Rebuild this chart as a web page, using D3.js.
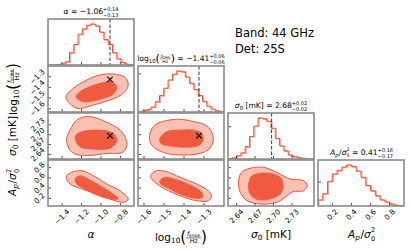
<!DOCTYPE html>
<html><head><meta charset="utf-8">
<script src="https://cdn.jsdelivr.net/npm/d3@7"></script>
<style>
body{margin:0;background:#fff;}
svg{display:block;font-family:"DejaVu Sans",sans-serif;}
text{white-space:pre;}
</style></head><body>
<svg id="c" width="411" height="251"></svg>
<script>
// ================= DATA =================
const alphaRange = [-1.545, -0.66];
const logfkRange = [-1.63, -1.20];
const sigmaRange = [2.626, 2.766];
const apRange    = [0.05, 0.95];

const alphaTicks = [-1.4, -1.2, -1.0, -0.8];
const logfkTicks = [-1.6, -1.5, -1.4, -1.3];
const sigmaTicks = [2.64, 2.67, 2.70, 2.73];
const apTicks    = [0.2, 0.4, 0.6, 0.8];

// marginal histograms (relative counts, peak = 1)
const alphaHist = [0, 0, 0.01, 0.03, 0.08, 0.3, 0.5, 0.75, 0.88, 0.97, 1.0, 0.95, 0.8, 0.62, 0.5, 0.3, 0.15, 0.06, 0.02, 0.01];
const logfkHist = [0, 0.03, 0.06, 0.12, 0.25, 0.4, 0.58, 0.78, 0.92, 1.0, 0.98, 0.85, 0.7, 0.55, 0.4, 0.26, 0.14, 0.07, 0.03, 0.01];
const sigmaHist = [0.01, 0.03, 0.08, 0.15, 0.3, 0.55, 0.8, 1.0, 0.98, 0.92, 0.75, 0.5, 0.32, 0.2, 0.1, 0.06, 0.04, 0.02, 0.01, 0.005];
const apHist    = [0.15, 0.3, 0.6, 0.78, 0.87, 0.95, 1.0, 0.96, 0.85, 0.7, 0.5, 0.37, 0.25, 0.15, 0.1, 0.05, 0.02, 0.01];
const histTickVals = [null, 0.925, 0.786, 0.584];

// true values (dashed lines / crosses)
const truthAlpha = -0.907;
const truthLogfk = -1.325;
const truthSigma = 2.697;

// 2D credible contours [x, y] in data units
const alphaLogfkOuter = [[-1.36,-1.502],[-1.25,-1.595],[-1.079,-1.565],[-0.907,-1.518],[-0.77,-1.455],[-0.719,-1.378],[-0.753,-1.306],[-0.873,-1.275],[-1.01,-1.284],[-1.147,-1.331],[-1.285,-1.409],[-1.353,-1.471]];
const alphaLogfkInner = [[-1.257,-1.487],[-1.182,-1.534],[-1.01,-1.511],[-0.873,-1.462],[-0.838,-1.394],[-0.89,-1.347],[-1.01,-1.362],[-1.13,-1.399],[-1.216,-1.44]];
const alphaSigmaOuter = [[-1.353,2.679],[-1.319,2.653],[-1.257,2.640],[-1.113,2.637],[-0.938,2.643],[-0.773,2.647],[-0.732,2.669],[-0.753,2.694],[-0.815,2.717],[-0.928,2.736],[-1.051,2.751],[-1.154,2.755],[-1.247,2.745],[-1.319,2.714],[-1.35,2.693]];
const alphaSigmaInner = [[-1.267,2.689],[-1.216,2.663],[-1.079,2.656],[-0.907,2.659],[-0.838,2.679],[-0.873,2.704],[-1.044,2.714],[-1.198,2.709],[-1.257,2.699]];
const alphaApOuter = [[-1.353,0.643],[-1.301,0.709],[-1.198,0.741],[-1.079,0.643],[-0.941,0.481],[-0.804,0.349],[-0.719,0.187],[-0.77,0.122],[-0.907,0.187],[-1.044,0.285],[-1.198,0.383],[-1.319,0.481],[-1.353,0.565]];
const alphaApInner = [[-1.267,0.578],[-1.216,0.643],[-1.13,0.578],[-1.01,0.447],[-0.873,0.285],[-0.822,0.187],[-0.907,0.187],[-1.044,0.265],[-1.164,0.383],[-1.25,0.481]];
const logfkSigmaOuter = [[-1.57,2.704],[-1.545,2.730],[-1.487,2.743],[-1.42,2.747],[-1.354,2.740],[-1.295,2.730],[-1.262,2.709],[-1.254,2.684],[-1.27,2.659],[-1.32,2.643],[-1.404,2.638],[-1.487,2.643],[-1.545,2.659],[-1.57,2.679]];
const logfkSigmaInner = [[-1.52,2.689],[-1.487,2.709],[-1.42,2.714],[-1.354,2.714],[-1.312,2.704],[-1.304,2.684],[-1.329,2.666],[-1.404,2.662],[-1.479,2.666],[-1.517,2.674]];
const logfkApOuter = [[-1.562,0.676],[-1.537,0.741],[-1.487,0.721],[-1.42,0.612],[-1.337,0.481],[-1.279,0.349],[-1.262,0.252],[-1.279,0.154],[-1.337,0.154],[-1.42,0.252],[-1.495,0.383],[-1.545,0.514],[-1.567,0.612]];
const logfkApInner = [[-1.52,0.545],[-1.495,0.612],[-1.437,0.565],[-1.362,0.447],[-1.312,0.318],[-1.307,0.220],[-1.345,0.201],[-1.42,0.285],[-1.487,0.416],[-1.517,0.481]];
const sigmaApOuter = [[2.643,0.514],[2.648,0.709],[2.662,0.788],[2.684,0.807],[2.705,0.709],[2.727,0.578],[2.749,0.545],[2.755,0.447],[2.749,0.349],[2.732,0.33],[2.719,0.22],[2.705,0.122],[2.678,0.089],[2.657,0.154],[2.646,0.318]];
const sigmaApInner = [[2.661,0.545],[2.665,0.643],[2.678,0.69],[2.694,0.69],[2.711,0.612],[2.716,0.447],[2.711,0.285],[2.694,0.187],[2.675,0.173],[2.663,0.265],[2.659,0.416]];

const titleValues = [["−1.06","+0.14","−0.13"],["−1.41","+0.06","−0.06"],["2.68","+0.02","−0.02"],["0.41","+0.16","−0.17"]];
const infoLines = ["Band: 44 GHz", "Det: 25S"];

// ================= LAYOUT =================
const svg = d3.select('#c');
const colX = [48, 138, 228, 318], colW = 86;
const rowY = [19, 66, 113, 160], rowH = 46;
const ranges = [alphaRange, logfkRange, sigmaRange, apRange];
const ticks = [alphaTicks, logfkTicks, sigmaTicks, apTicks];
const fmts = [d3.format(".1f"), d3.format(".1f"), d3.format(".2f"), d3.format(".1f")];
const hists = [alphaHist, logfkHist, sigmaHist, apHist];
const truths = [truthAlpha, truthLogfk, truthSigma, null];
const panels2d = [
  {r:1, c:0, outer:alphaLogfkOuter, inner:alphaLogfkInner},
  {r:2, c:0, outer:alphaSigmaOuter, inner:alphaSigmaInner},
  {r:3, c:0, outer:alphaApOuter, inner:alphaApInner},
  {r:2, c:1, outer:logfkSigmaOuter, inner:logfkSigmaInner},
  {r:3, c:1, outer:logfkApOuter, inner:logfkApInner},
  {r:3, c:2, outer:sigmaApOuter, inner:sigmaApInner}
];
const EDGE = "#ef5236", LIGHT = "#f9c1b3", DARK = "#f05a3e", SPINE = "#8a8a8a";

const xs = j => d3.scaleLinear().domain(ranges[j]).range([colX[j], colX[j] + colW]);
const ys = i => d3.scaleLinear().domain(ranges[i]).range([rowY[i] + rowH, rowY[i]]);

const defs = svg.append('defs');
function clip(r, c) {
  const id = `cp${r}${c}`;
  defs.append('clipPath').attr('id', id).append('rect')
    .attr('x', colX[c]).attr('y', rowY[r]).attr('width', colW).attr('height', rowH);
  return `url(#${id})`;
}

// ---- histograms ----
for (let k = 0; k < 4; k++) {
  const x = xs(k);
  const y = d3.scaleLinear().domain([0, 1.12]).range([rowY[k] + rowH, rowY[k]]);
  const counts = hists[k];
  const n = counts.length;
  const edges = d3.range(n + 1).map(e => ranges[k][0] + e * (ranges[k][1] - ranges[k][0]) / n);
  const pts = [[edges[0], 0]];
  counts.forEach((v, b) => { pts.push([edges[b], v]); pts.push([edges[b + 1], v]); });
  pts.push([edges[n], 0]);
  const line = d3.line().x(d => x(d[0])).y(d => y(d[1]));
  const g = svg.append('g').attr('clip-path', clip(k, k));
  g.append('path').attr('d', line(pts)).attr('fill', 'none').attr('stroke', '#f8a696')
    .attr('stroke-width', 1.1).attr('transform', 'translate(1,0.6)');
  g.append('path').attr('d', line(pts)).attr('fill', 'none').attr('stroke', EDGE).attr('stroke-width', 1);
  if (truths[k] !== null) {
    g.append('line').attr('x1', x(truths[k])).attr('x2', x(truths[k]))
      .attr('y1', rowY[k]).attr('y2', rowY[k] + rowH)
      .attr('stroke', '#333').attr('stroke-width', 1).attr('stroke-dasharray', '3.5,2');
  }
  if (histTickVals[k] !== null) {
    svg.append('line').attr('x1', colX[k]).attr('x2', colX[k] + 3)
      .attr('y1', y(histTickVals[k])).attr('y2', y(histTickVals[k])).attr('stroke', '#222').attr('stroke-width', 0.8);
  }
}

// ---- 2D contours ----
const closed = (xsc, ysc) => d3.line().curve(d3.curveCatmullRomClosed.alpha(0.5)).x(d => xsc(d[0])).y(d => ysc(d[1]));
panels2d.forEach(p => {
  const x = xs(p.c), y = ys(p.r);
  const g = svg.append('g').attr('clip-path', clip(p.r, p.c));
  const ln = closed(x, y);
  g.append('path').attr('d', ln(p.outer)).attr('fill', LIGHT).attr('stroke', EDGE).attr('stroke-width', 1);
  g.append('path').attr('d', ln(p.inner)).attr('fill', DARK).attr('stroke', DARK).attr('stroke-width', 0.8);
  if (truths[p.c] !== null && truths[p.r] !== null) {
    const cx = x(truths[p.c]), cy = y(truths[p.r]), s = 2.8;
    g.append('path').attr('d', `M${cx - s},${cy - s}L${cx + s},${cy + s}M${cx - s},${cy + s}L${cx + s},${cy - s}`)
      .attr('stroke', '#111').attr('stroke-width', 1.2);
  }
});

// ---- frames & ticks ----
for (let r = 0; r < 4; r++) {
  for (let c = 0; c <= r; c++) {
    const x = xs(c), y = ys(r);
    const g = svg.append('g');
    ticks[c].forEach(t => {
      g.append('line').attr('x1', x(t)).attr('x2', x(t)).attr('y1', rowY[r] + rowH).attr('y2', rowY[r] + rowH - 3)
        .attr('stroke', '#222').attr('stroke-width', 0.8);
    });
    if (r !== c) {
      ticks[r].forEach(t => {
        g.append('line').attr('x1', colX[c]).attr('x2', colX[c] + 3).attr('y1', y(t)).attr('y2', y(t))
          .attr('stroke', '#222').attr('stroke-width', 0.8);
      });
    }
    g.append('rect').attr('x', colX[c]).attr('y', rowY[r]).attr('width', colW).attr('height', rowH)
      .attr('fill', 'none').attr('stroke', SPINE).attr('stroke-width', 1.6);
  }
}

// ---- tick labels ----
const TFS = 7.3;
for (let c = 0; c < 4; c++) {
  const x = xs(c);
  ticks[c].forEach(t => {
    const tx = svg.append('text').style('font-size', TFS + 'px').attr('text-anchor', 'middle')
      .attr('dominant-baseline', 'central').text(fmts[c](t));
    const L = tx.node().getComputedTextLength(), h = TFS * 0.8;
    const off = (L + h) / (2 * Math.SQRT2);
    tx.attr('transform', `translate(${x(t)},${rowY[3] + rowH + 2.5 + off}) rotate(-45)`);
  });
}
for (let r = 1; r < 4; r++) {
  const y = ys(r);
  ticks[r].forEach(t => {
    const tx = svg.append('text').style('font-size', TFS + 'px').attr('text-anchor', 'middle')
      .attr('dominant-baseline', 'central').text(fmts[r](t));
    const L = tx.node().getComputedTextLength(), h = TFS * 0.8;
    const off = (L + h) / (2 * Math.SQRT2);
    tx.attr('transform', `translate(${colX[0] - 2.5 - off},${y(t)}) rotate(-45)`);
  });
}

// ---- math label builders ----
function T(g, x, y, s, fs, italic) {
  const t = g.append('text').attr('x', x).attr('y', y).style('font-size', fs + 'px').text(s);
  if (italic) t.style('font-style', 'italic');
  return x + t.node().getComputedTextLength();
}
const labelDraw = [
  (g, fs) => T(g, 0, 0, 'α', fs, true),
  (g, fs) => {
    let x = T(g, 0, 0, 'log', fs);
    x = T(g, x, fs * 0.22, '10', fs * 0.7);
    const pf = fs * 1.45;
    x = T(g, x, fs * 0.14, '(', pf);
    const sf = fs * 0.6;
    const gn = g.append('g');
    let nx = T(gn, 0, -fs * 0.45, 'f', sf, true);
    nx = T(gn, nx, -fs * 0.38, 'knee', sf * 0.72);
    const gd = g.append('g');
    const dx = T(gd, 0, fs * 0.22, 'Hz', sf);
    const w = Math.max(nx, dx) + fs * 0.15;
    gn.attr('transform', `translate(${x + (w - nx) / 2},0)`);
    gd.attr('transform', `translate(${x + (w - dx) / 2},0)`);
    g.append('line').attr('x1', x).attr('x2', x + w).attr('y1', -fs * 0.3).attr('y2', -fs * 0.3)
      .attr('stroke', '#000').attr('stroke-width', Math.max(0.4, fs * 0.05));
    x += w;
    x = T(g, x, fs * 0.14, ')', pf);
    return x;
  },
  (g, fs) => {
    let x = T(g, 0, 0, 'σ', fs, true);
    x = T(g, x, fs * 0.2, '0', fs * 0.7);
    return T(g, x, 0, ' [mK]', fs);
  },
  (g, fs) => {
    let x = T(g, 0, 0, 'A', fs, true);
    x = T(g, x + fs * 0.02, fs * 0.2, 'p', fs * 0.7, true);
    x = T(g, x + fs * 0.05, 0, '/', fs);
    x = T(g, x, 0, 'σ', fs, true);
    const a = T(g, x + fs * 0.02, fs * 0.3, '0', fs * 0.62);
    const b = T(g, x + fs * 0.02, -fs * 0.5, '2', fs * 0.62);
    return Math.max(a, b);
  }
];
function center(g, cx, by) {
  const bb = g.node().getBBox();
  g.attr('transform', `translate(${cx - bb.x - bb.width / 2},${by})`);
}

// ---- titles ----
const TTL = 7.6;
for (let k = 0; k < 4; k++) {
  const g = svg.append('g');
  let x = labelDraw[k](g, TTL);
  x = T(g, x, 0, ' = ' + titleValues[k][0], TTL);
  T(g, x, -TTL * 0.42, titleValues[k][1], TTL * 0.66);
  T(g, x, TTL * 0.36, titleValues[k][2], TTL * 0.66);
  center(g, colX[k] + colW / 2, rowY[k] - 5);
}

// ---- axis labels ----
const AFS = 10.5;
for (let k = 0; k < 4; k++) {
  const g = svg.append('g');
  labelDraw[k](g, AFS);
  center(g, colX[k] + colW / 2, k === 1 ? 241 : 237.5);
}
for (let r = 1; r < 4; r++) {
  const g = svg.append('g');
  const inner = g.append('g');
  labelDraw[r](inner, AFS);
  const bb = inner.node().getBBox();
  inner.attr('transform', `translate(${-bb.x - bb.width / 2},${-bb.y - bb.height / 2})`);
  const cy = rowY[r] + rowH / 2;
  g.attr('transform', `translate(13,${cy}) rotate(-90)`);
}

// ---- info text ----
infoLines.forEach((s, i) => {
  svg.append('text').attr('x', 235).attr('y', 36.5 + i * 16.7).style('font-size', '11.5px').text(s);
});
</script>
</body></html>
